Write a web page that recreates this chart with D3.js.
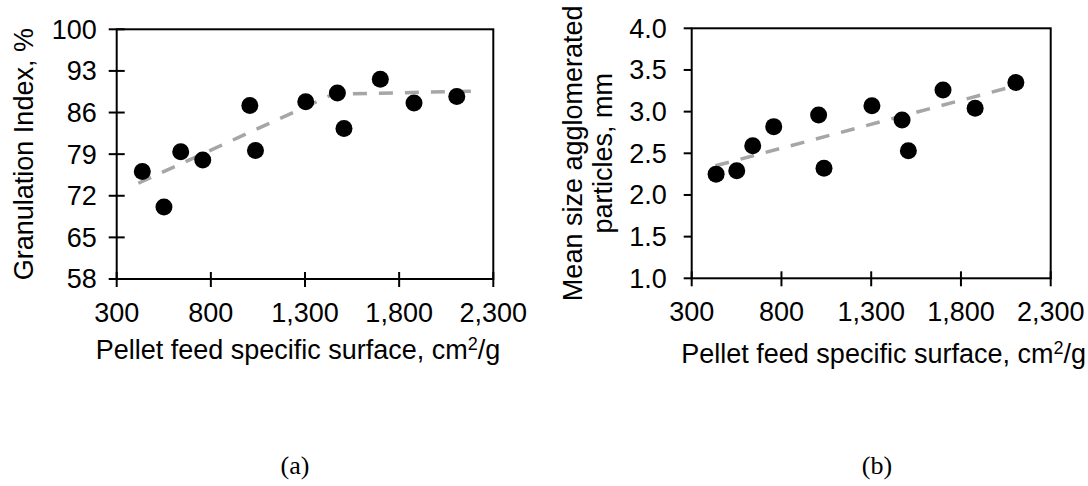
<!DOCTYPE html>
<html>
<head>
<meta charset="utf-8">
<title>Granulation</title>
<script src="https://d3js.org/d3.v7.min.js"></script>
<style>
  body { margin: 0; background: #fff; }
  text { font-family: "Liberation Sans", Arial, sans-serif; fill: #000; }
  .lbl { font-family: "Liberation Serif", "Times New Roman", serif; }
</style>
</head>
<body>
<div id="chart"></div>
<script>
"use strict"

// shared x values (pellet feed specific surface, cm2/g)
var surface = [436, 551, 640, 757, 1007, 1037, 1304, 1472, 1507, 1700, 1879, 2106];
// (a) granulation index, %
var granulation = [76.1, 70.1, 79.4, 78.0, 87.2, 79.6, 87.8, 89.3, 83.3, 91.6, 87.6, 88.7];
// (b) mean size of agglomerated particles, mm
var meanSize = [2.25, 2.29, 2.59, 2.82, 2.96, 2.32, 3.07, 2.90, 2.53, 3.26, 3.04, 3.35];

// trend lines
var trendA = [[415, 74.1], [1450, 89.1], [2220, 89.6]];
var trendB = [[432, 2.35], [2104, 3.31]];

var xTicks = [300, 800, 1300, 1800, 2300];
var yTicksA = [58, 65, 72, 79, 86, 93, 100];
var yTicksB = [1.0, 1.5, 2.0, 2.5, 3.0, 3.5, 4.0];

var svg = d3.select('#chart').append('svg')
  .attr('width', 1088)
  .attr('height', 486);

var fs = 27;

function desenhaPainel(cfg) {
  var x = d3.scaleLinear().domain([300, 2300]).range([cfg.left, cfg.right]);
  var y = d3.scaleLinear().domain(cfg.yDomain).range([cfg.bottom, cfg.top]);
  var g = svg.append('g');

  // box
  g.append('rect')
    .attr('x', cfg.left).attr('y', cfg.top)
    .attr('width', cfg.right - cfg.left).attr('height', cfg.bottom - cfg.top)
    .attr('fill', 'none').attr('stroke', '#000').attr('stroke-width', 2);

  // x ticks (cross the axis)
  g.selectAll('.xt').data(xTicks).enter().append('line')
    .attr('x1', d => x(d)).attr('x2', d => x(d))
    .attr('y1', cfg.bottom - 7).attr('y2', cfg.bottom + 8)
    .attr('stroke', '#000').attr('stroke-width', 2);
  g.selectAll('.xl').data(xTicks).enter().append('text')
    .attr('x', d => x(d)).attr('y', cfg.bottom + 43)
    .attr('text-anchor', 'middle')
    .style('font-size', fs + 'px')
    .text(d => d3.format(',')(d));

  // y ticks
  g.selectAll('.yt').data(cfg.yTicks).enter().append('line')
    .attr('x1', cfg.left - 8).attr('x2', cfg.left + cfg.yTickIn)
    .attr('y1', d => y(d)).attr('y2', d => y(d))
    .attr('stroke', '#000').attr('stroke-width', 2);
  g.selectAll('.yl').data(cfg.yTicks).enter().append('text')
    .attr('x', cfg.left - cfg.yLabelGap).attr('y', d => y(d))
    .attr('dy', '0.35em')
    .attr('text-anchor', 'end')
    .style('font-size', fs + 'px')
    .text(d => cfg.yFormat(d));

  // trend
  g.append('path')
    .datum(cfg.trend)
    .attr('d', d3.line().x(d => x(d[0])).y(d => y(d[1])))
    .attr('fill', 'none')
    .attr('stroke', '#a6a6a6')
    .attr('stroke-width', 3.5)
    .attr('stroke-dasharray', '14,12');

  // points
  g.selectAll('circle').data(surface).enter().append('circle')
    .attr('cx', d => x(d))
    .attr('cy', (d, i) => y(cfg.values[i]))
    .attr('r', 8.5)
    .attr('fill', '#000');

  // x title
  var t = g.append('text')
    .attr('x', cfg.xTitleX).attr('y', cfg.xTitleY)
    .attr('text-anchor', cfg.xTitleAnchor)
    .style('font-size', fs + 'px');
  t.append('tspan').text('Pellet feed specific surface, cm');
  t.append('tspan').attr('dy', -9).style('font-size', '18px').text('2');
  t.append('tspan').attr('dy', 9).text('/g');

  // y title
  var yt = g.append('text')
    .attr('transform', 'translate(' + cfg.yTitleX + ',' + (cfg.top + cfg.bottom) / 2 + ') rotate(-90)')
    .attr('text-anchor', 'middle')
    .style('font-size', fs + 'px');
  cfg.yTitle.forEach(function (s, i) {
    yt.append('tspan').attr('x', 0).attr('y', i * 30).text(s);
  });

  // panel label
  svg.append('text').attr('class', 'lbl')
    .attr('x', cfg.labelX).attr('y', 474)
    .attr('text-anchor', 'middle')
    .style('font-size', '26px')
    .text(cfg.label);
}

desenhaPainel({
  left: 116.7, right: 493.3, top: 29.3, bottom: 279,
  yDomain: [58, 100], yTicks: yTicksA, yFormat: d3.format('d'),
  yTickIn: 8, yLabelGap: 20,
  values: granulation, trend: trendA,
  xTitleX: 298, xTitleY: 359, xTitleAnchor: 'middle',
  yTitle: ['Granulation Index,  %'], yTitleX: 33,
  label: '(a)', labelX: 295
});

desenhaPainel({
  left: 691.7, right: 1050.7, top: 28.3, bottom: 278.3,
  yDomain: [1, 4], yTicks: yTicksB, yFormat: d3.format('.1f'),
  yTickIn: 0, yLabelGap: 25,
  values: meanSize, trend: trendB,
  xTitleX: 1086, xTitleY: 363, xTitleAnchor: 'end',
  yTitle: ['Mean size agglomerated', 'particles, mm'], yTitleX: 582,
  label: '(b)', labelX: 877
});
</script>
</body>
</html>
